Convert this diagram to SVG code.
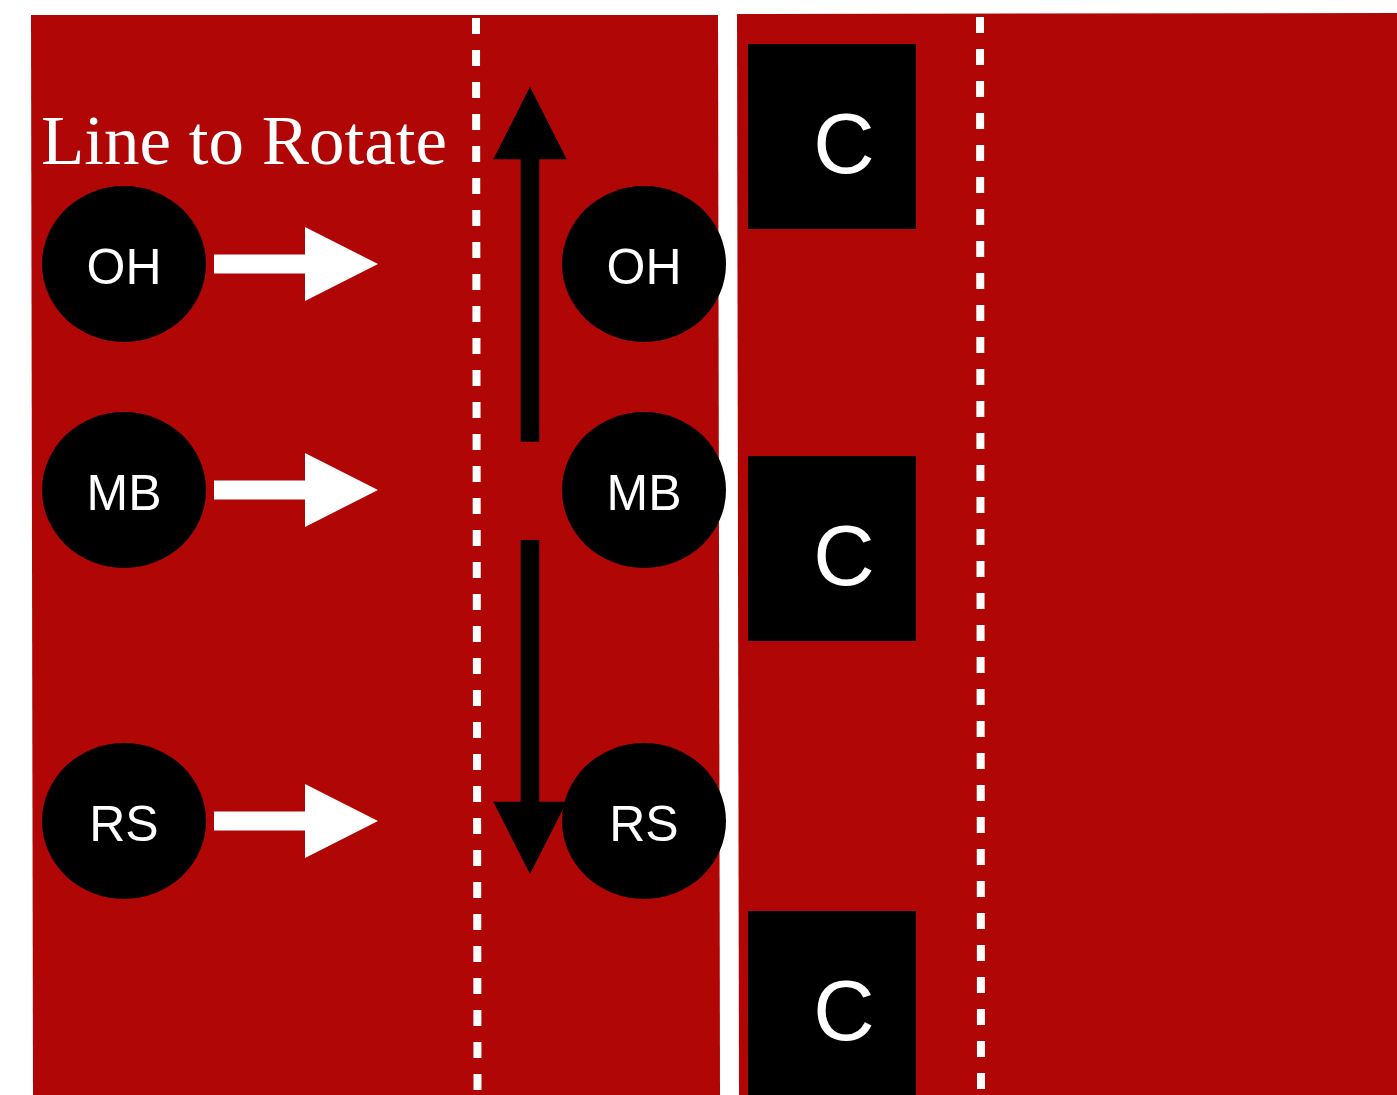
<svg xmlns="http://www.w3.org/2000/svg" width="1397" height="1095" viewBox="0 0 1397 1095">
<style>
.panel{fill:#B00606}
.dash{stroke:#fff;stroke-width:8;stroke-dasharray:16 16;fill:none}
.player{fill:#000}
.plabel{fill:#fff;font-family:"Liberation Sans",Arial,sans-serif;font-size:50px;text-anchor:middle}
.cbox{fill:#000}
.clabel{fill:#fff;font-family:"Liberation Sans",Arial,sans-serif;font-size:85px;text-anchor:middle}
.warrow{fill:#fff}
.barrow{fill:#000}
.title{fill:#fff;font-family:"Liberation Serif","Times New Roman",serif;font-size:70px}
</style>
<rect x="0" y="0" width="1397" height="1095" fill="#fff"/>
<g id="court-left">
<polygon class="panel" points="31,15 718,15 720,1095 33,1095"/>
<line class="dash" x1="476" y1="18" x2="477.5" y2="1095"/>
</g>
<g id="court-right">
<polygon class="panel" points="737,14 1397,13 1397,1095 739,1095"/>
<line class="dash" x1="980" y1="17" x2="981" y2="1095"/>
</g>
<text id="title" class="title" x="41" y="164" textLength="406" lengthAdjust="spacingAndGlyphs">Line to Rotate</text>
<g id="connectors">
<polygon class="warrow" points="214,254.5 305,254.5 305,227 378,264 305,301 305,273.5 214,273.5"/>
<polygon class="warrow" points="214,480.5 305,480.5 305,453 378,490 305,527 305,499.5 214,499.5"/>
<polygon class="warrow" points="214,811.5 305,811.5 305,784 378,821 305,858 305,830.5 214,830.5"/>
<polygon class="barrow" points="520.7,441.7 539.3,441.7 539.3,159.3 566.7,159.3 530,86.7 493.3,159.3 520.7,159.3"/>
<polygon class="barrow" points="520.7,540 539.3,540 539.3,801.7 566.7,801.7 530,874 493.3,801.7 520.7,801.7"/>
</g>
<g id="node-oh-left"><ellipse class="player" cx="124" cy="264" rx="82" ry="78"/><text class="plabel" x="124" y="284">OH</text></g>
<g id="node-mb-left"><ellipse class="player" cx="124" cy="490" rx="82" ry="78"/><text class="plabel" x="124" y="510">MB</text></g>
<g id="node-rs-left"><ellipse class="player" cx="124" cy="821" rx="82" ry="78"/><text class="plabel" x="124" y="841">RS</text></g>
<g id="node-oh-right"><ellipse class="player" cx="644" cy="264" rx="82" ry="78"/><text class="plabel" x="644" y="284">OH</text></g>
<g id="node-mb-right"><ellipse class="player" cx="644" cy="490" rx="82" ry="78"/><text class="plabel" x="644" y="510">MB</text></g>
<g id="node-rs-right"><ellipse class="player" cx="644" cy="821" rx="82" ry="78"/><text class="plabel" x="644" y="841">RS</text></g>
<g id="node-c1"><rect class="cbox" x="748" y="44" width="168" height="185"/><text class="clabel" x="844" y="173">C</text></g>
<g id="node-c2"><rect class="cbox" x="748" y="456" width="168" height="185"/><text class="clabel" x="844" y="585">C</text></g>
<g id="node-c3"><rect class="cbox" x="748" y="911" width="168" height="184"/><text class="clabel" x="844" y="1040">C</text></g>
</svg>
